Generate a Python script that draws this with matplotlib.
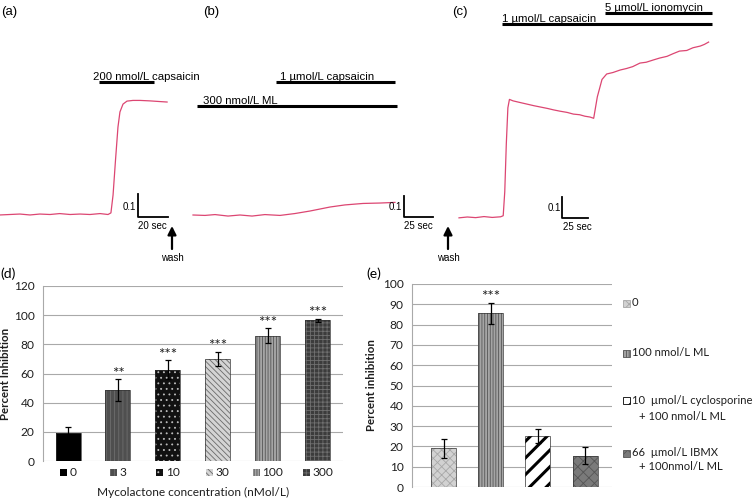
import matplotlib.pyplot as plt
import matplotlib.transforms as mtransforms
from matplotlib.patches import Rectangle
from matplotlib.offsetbox import AnnotationBbox, DrawingArea, HPacker, TextArea

W, H = 755, 500

# calcium traces: time (s) and ratio change
t_a = [0, 6.5, 13, 19.6, 26, 32.7, 39, 45.8, 52.3, 58.8, 65.4, 70.6, 72.5, 73.9,
       75.5, 77.1, 78.4, 80.4, 83, 86.9, 91.5, 98, 104.6, 109.2]
r_a = [-0.002, 0, 0.002, -0.002, 0.002, 0, 0.004, 0, 0.002, 0, 0.004, 0, 0.007, 0.085,
       0.237, 0.38, 0.446, 0.48, 0.493, 0.496, 0.496, 0.494, 0.491, 0.489]

t_b = [0, 10.3, 19, 30.2, 40.5, 50.9, 62, 75, 87.9, 100.9, 118.1, 131, 146.6, 161.2, 174.1]
r_b = [0, -0.002, 0.002, -0.005, 0, -0.005, 0.002, -0.002, 0.007, 0.019, 0.038, 0.048,
       0.055, 0.057, 0.06]

t_c = [0, 8, 16, 24, 32, 40, 42.5, 44, 45.5, 47, 48.5, 52, 58, 65, 72, 78, 85, 91, 97,
       104, 110, 116, 121, 126, 129.5, 133, 137.5, 142, 148, 155, 161, 167, 174, 180,
       187, 193, 200, 206, 212, 219, 225, 232, 236, 240]
r_c = [-0.004, 0.0, -0.003, 0.002, -0.002, 0.001, 0.006, 0.12, 0.35, 0.52, 0.56, 0.553,
       0.546, 0.538, 0.530, 0.524, 0.517, 0.510, 0.504, 0.498, 0.490, 0.487, 0.480,
       0.476, 0.470, 0.572, 0.655, 0.681, 0.688, 0.700, 0.707, 0.716, 0.733, 0.737,
       0.748, 0.757, 0.765, 0.778, 0.790, 0.793, 0.806, 0.814, 0.822, 0.833]

# drug applications (start s, end s, label)
stim_a = [(64.7, 100.7, '200 nmol/L capsaicin')]
stim_b = [(71.6, 174.1, '1 µmol/L capsaicin'), (3.4, 175.9, '300 nmol/L ML')]
stim_c = [(41.3, 243.3, '1 µmol/L capsaicin'), (140.4, 243.3, '5 µmol/L ionomycin')]

# (d) dose response
conc = ['0', '3', '10', '30', '100', '300']
inhib = [19, 48.5, 62.5, 70, 86, 96.5]
inhib_err = [4.5, 7.5, 6.5, 5, 5, 1]
stars_d = ['', '**', '***', '***', '***', '***']

# (e) treatments
treat = ['0', '100 nmol/L ML', '10  µmol/L cyclosporine', '66  µmol/L IBMX']
treat_2nd = ['', '', '+ 100 nmol/L ML', '+ 100nmol/L ML']
treat_inhib = [19, 85.5, 25, 15.5]
treat_err = [4.5, 5.3, 3.5, 4]
stars_e = ['', '***', '', '']

plt.rcParams['hatch.linewidth'] = 0.6
TF = ['Liberation Sans', 'DejaVu Sans']
CF = ['Lato', 'DejaVu Sans']
TXT = '#1e1e1e'
GRID = '#a9a9a9'
TRACE = '#dc4672'

fig = plt.figure(figsize=(W / 100, H / 100), dpi=100)
ov = fig.add_axes([0, 0, 1, 1])
ov.set_xlim(0, W)
ov.set_ylim(H, 0)
ov.axis('off')


def px_axes(x0, y0, x1, y1):
    return fig.add_axes([x0 / W, 1 - y1 / H, (x1 - x0) / W, (y1 - y0) / H])


def trace_panel(t, r, x0, y0, sx, sy, stims, stim_y, label_x, sbar, sec, wash_x):
    tr = mtransforms.Affine2D().scale(sx, -sy).translate(x0, y0) + ov.transData
    ov.plot(t, r, color=TRACE, lw=0.9, transform=tr)
    xt = mtransforms.blended_transform_factory(tr, ov.transData)
    for (s0, s1, lab), y, lx in zip(stims, stim_y, label_x):
        ov.plot([s0, s1], [y, y], color='black', lw=2.2, solid_capstyle='butt', transform=xt)
        ov.text(lx, y - 2, lab, fontsize=8.2, family=TF, ha='left', va='baseline')
    cx, cy = sbar
    ov.plot([cx, cx, cx + sec * sx], [cy - 0.1 * sy, cy, cy], color='black', lw=1.3)
    ov.text(cx - 1.5, cy - 10, '0.1', fontsize=7, family=TF, ha='right', va='center')
    ov.text(cx + 15, cy + 9, f'{sec} sec', fontsize=7, family=TF, ha='center', va='center')
    if wash_x is not None:
        ov.annotate('', xy=(wash_x, 226), xytext=(wash_x, 249),
                    arrowprops=dict(arrowstyle='-|>,head_width=0.25,head_length=0.5',
                                    lw=1.6, color='black', shrinkA=0, shrinkB=0))
        ov.text(wash_x, 258, 'wash', fontsize=7, family=TF, ha='center', va='center')


trace_panel(t_a, r_a, 0, 214.5, 1.53, 230, stim_a, [82], [93], (137.7, 217), 20, 172)
trace_panel(t_b, r_b, 193, 215, 1.16, 210, stim_b, [82, 106], [280, 203], (403.5, 217), 25, 448)
trace_panel(t_c, r_c, 459, 217, 1.04, 210, stim_c, [24, 13], [502, 605], (562, 218), 25, None)

for lab, x in [('(a)', 1), ('(b)', 203), ('(c)', 452)]:
    ov.text(x, 12, lab, fontsize=9.5, family=TF, ha='left', va='center')
ov.text(0, 274, '(d)', fontsize=10, family=CF, ha='left', va='center')
ov.text(366, 274, '(e)', fontsize=10, family=CF, ha='left', va='center')

# bar styles: face, hatch, hatch colour
style_d = [('#000000', '', '#000000'),
           ('#4f4f4f', '||||', '#6e6e6e'),
           ('#111111', '...', '#bdbdbd'),
           ('#d4d4d4', '\\\\\\\\\\\\', '#6a6a6a'),
           ('#a5a5a5', '||||||', '#555555'),
           ('#3c3c3c', '++++', '#707070')]
style_e = [('#d2d2d2', 'xxxx', '#a8a8a8'),
           ('#a5a5a5', '||||||', '#555555'),
           ('#ffffff', '//', '#000000'),
           ('#7a7a7a', 'xxx', '#555555')]


def style_axes(ax, top, step):
    ax.set_ylim(0, top)
    ax.set_yticks(range(0, top + 1, step))
    ax.yaxis.grid(True, color=GRID, lw=0.8)
    ax.set_axisbelow(True)
    for s in ['top', 'right', 'bottom']:
        ax.spines[s].set_visible(False)
    ax.spines['left'].set_color(GRID)
    ax.set_xticks([])
    ax.tick_params(axis='y', length=0, labelsize=8.6, labelcolor=TXT, pad=6)
    for lab in ax.get_yticklabels():
        lab.set_family(CF)


def draw_bars(ax, vals, errs, styles, width, thick=None):
    for i, (v, (fc, hatch, hc)) in enumerate(zip(vals, styles)):
        if thick and i in thick:
            with plt.rc_context({'hatch.linewidth': thick[i]}):
                ax.bar(i, v, width, color=fc, edgecolor=hc, hatch=hatch, lw=0, zorder=2)
        else:
            ax.bar(i, v, width, color=fc, edgecolor=hc, hatch=hatch, lw=0, zorder=2)
        ax.bar(i, v, width, color='none', edgecolor='#333333', lw=0.5, zorder=2)
    ax.errorbar(range(len(vals)), vals, yerr=errs, fmt='none', ecolor='black',
                elinewidth=0.9, capsize=2.5, capthick=0.9, zorder=3)


# (d)
axd = px_axes(43, 286, 343, 461)
style_axes(axd, 120, 20)
axd.set_xlim(-0.5, 5.5)
draw_bars(axd, inhib, inhib_err, style_d, 0.5)
for i, (v, e, s) in enumerate(zip(inhib, inhib_err, stars_d)):
    if s:
        axd.annotate(s, (i, v + e), xytext=(0, -1), textcoords='offset points',
                     ha='center', va='bottom', fontsize=11, family=CF, color=TXT)
    da = DrawingArea(5, 5, 0, 0)
    fc, hatch, hc = style_d[i]
    da.add_artist(Rectangle((0, 0), 5, 5, facecolor=fc, edgecolor=hc, hatch=hatch, lw=0))
    ta = TextArea(conc[i], textprops=dict(fontsize=8.6, family=CF, color=TXT))
    box = HPacker(children=[da, ta], align='center', pad=0, sep=2)
    axd.add_artist(AnnotationBbox(box, (i, 0), xycoords='data', xybox=(0, -8),
                                  boxcoords='offset points', frameon=False,
                                  box_alignment=(0.5, 0.5), annotation_clip=False))
axd.set_ylabel('Percent Inhibition', fontsize=8.3, family=CF, fontweight='bold', color=TXT)
axd.yaxis.set_label_coords(-(43 - 11) / 300, 0.5)
ov.text(193, 492, 'Mycolactone concentration (nMol/L)', fontsize=8.6, family=CF,
        color=TXT, ha='center', va='center')

# (e)
axe = px_axes(412, 284, 612, 487)
style_axes(axe, 100, 10)
axe.set_xlim(-0.67, 3.57)
draw_bars(axe, treat_inhib, treat_err, style_e, 0.53, thick={2: 2.2})
for i, (v, e, s) in enumerate(zip(treat_inhib, treat_err, stars_e)):
    if s:
        axe.annotate(s, (i, v + e), xytext=(0, -1), textcoords='offset points',
                     ha='center', va='bottom', fontsize=11, family=CF, color=TXT)
axe.set_ylabel('Percent inhibition', fontsize=8.3, family=CF, fontweight='bold', color=TXT)
axe.yaxis.set_label_coords(-(412 - 377) / 200, 0.5)

leg_y = [303, 353, 400, 453]
leg_y2 = [None, None, 417, 467]
for i, (lab, lab2) in enumerate(zip(treat, treat_2nd)):
    fc, hatch, hc = style_e[i]
    y = leg_y[i]
    ov.add_patch(Rectangle((623, y - 3.5), 7, 7, facecolor=fc, edgecolor=hc, hatch=hatch,
                           lw=0.6))
    ov.text(632, y, lab, fontsize=8.1, family=CF, color=TXT, ha='left', va='center')
    if lab2:
        ov.text(639, leg_y2[i], lab2, fontsize=8.1, family=CF, color=TXT, ha='left', va='center')

fig.savefig('out.png', dpi=100)
